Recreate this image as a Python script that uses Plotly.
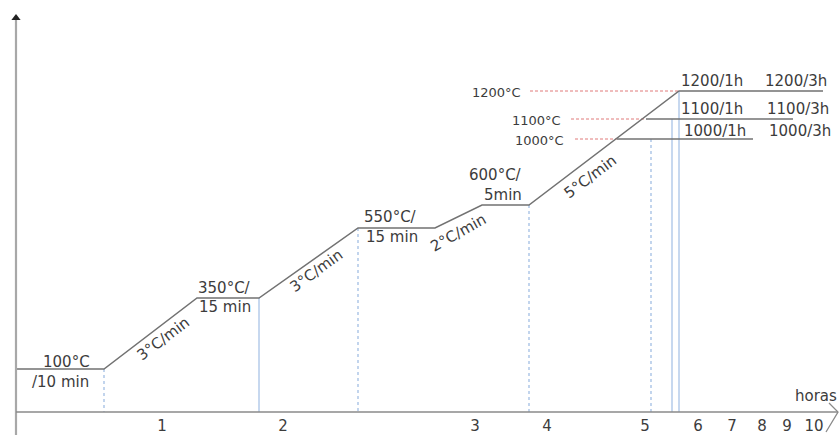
import plotly.graph_objects as go

# ---- schematic diagram data (diagram units: x = time position, y = height, downwards) ----
profile_x = [16, 104, 197, 259, 358, 435, 482, 529, 679, 823]
profile_y = [369, 369, 298, 298, 228, 228, 205, 205, 91, 91]

hold_levels = ["1000", "1100", "1200"]
hold_y = [139, 119, 91]
hold_start = [617, 646, 679]
hold_end = [753, 793, 823]
ref_start = [575, 571, 530]
ref_labels = ["1000°C", "1100°C", "1200°C"]
ref_label_x = [565, 562, 522]

drop_x = [104, 259, 358, 529, 651, 672, 679]
drop_top = [369, 298, 228, 205, 139, 119, 91]
drop_dotted = [True, False, True, True, True, False, False]

tick_labels = ["1", "2", "3", "4", "5", "6", "7", "8", "9", "10"]
tick_pos = [162, 283, 475, 547, 645, 698, 732, 762, 787, 814]

plateau_text = ["100°C", "/10 min", "350°C/", "15 min", "550°C/", "15 min", "600°C/", "5min"]
plateau_x = [91, 90, 197, 198, 363, 365, 523, 523]
plateau_y = [362, 382, 288, 307, 217, 237, 175, 195]
plateau_anchor = ["right", "right", "left", "left", "left", "left", "right", "right"]

ramp_labels = ["3°C/min", "3°C/min", "2°C/min", "5°C/min"]
ramp_x = [163, 316, 458, 590]
ramp_y = [339, 271, 233, 177]
ramp_angle = [-37, -36, -29, -37]

hold_text = ["1200/1h", "1200/3h", "1100/1h", "1100/3h", "1000/1h", "1000/3h"]
hold_text_x = [680, 764, 680, 766, 683, 768]
hold_text_y = [81, 81, 109, 109, 131, 131]

axis_y = 412
axis_x0, axis_x1 = 16, 838

FONT = "DejaVu Sans"
TXT = "#3c3c3c"
GREY = "#727272"
BLUE = "#a9c3e6"
RED = "#e07a7a"

fig = go.Figure()

# vertical drop lines
for x, top, dotted in zip(drop_x, drop_top, drop_dotted):
    fig.add_trace(go.Scatter(x=[x, x], y=[top, axis_y], mode="lines",
                             line=dict(color=BLUE, width=1.4 if dotted else 1.3,
                                       dash="dot" if dotted else "solid"),
                             hoverinfo="skip", showlegend=False))

# red reference dashed lines
for y, x0, x1 in zip(hold_y, ref_start, hold_start):
    fig.add_trace(go.Scatter(x=[x0, x1], y=[y, y], mode="lines",
                             line=dict(color=RED, width=1, dash="3px,2px"),
                             hoverinfo="skip", showlegend=False))

# main profile
fig.add_trace(go.Scatter(x=profile_x, y=profile_y, mode="lines",
                         line=dict(color=GREY, width=1.5),
                         hoverinfo="skip", showlegend=False))
# extra hold lines
for y, x0, x1 in zip(hold_y[:2], hold_start[:2], hold_end[:2]):
    fig.add_trace(go.Scatter(x=[x0, x1], y=[y, y], mode="lines",
                             line=dict(color=GREY, width=1.5),
                             hoverinfo="skip", showlegend=False))

# axes
fig.add_trace(go.Scatter(x=[axis_x0, axis_x0], y=[435, 18], mode="lines",
                         line=dict(color="#a8a8a8", width=2.2),
                         hoverinfo="skip", showlegend=False))
fig.add_trace(go.Scatter(x=[axis_x0], y=[18], mode="markers",
                         marker=dict(symbol="triangle-up", size=8, color="#222"),
                         hoverinfo="skip", showlegend=False))
fig.add_trace(go.Scatter(x=[axis_x0, axis_x1], y=[axis_y, axis_y], mode="lines",
                         line=dict(color="#8a8a8a", width=1.5),
                         hoverinfo="skip", showlegend=False))
fig.add_trace(go.Scatter(x=[829, 838, 826], y=[403, 412, 432], mode="lines",
                         line=dict(color="#8a8a8a", width=1.3),
                         hoverinfo="skip", showlegend=False))

# tick labels
fig.add_trace(go.Scatter(x=tick_pos, y=[427] * len(tick_pos), mode="text",
                         text=tick_labels, textposition="middle center",
                         textfont=dict(family=FONT, size=15, color=TXT),
                         hoverinfo="skip", showlegend=False))

ann = []
ann.append(dict(x=816, y=396, text="horas", xanchor="center", yanchor="middle"))
for t, x, y, a in zip(plateau_text, plateau_x, plateau_y, plateau_anchor):
    ann.append(dict(x=x, y=y, text=t, xanchor=a, yanchor="middle"))
for t, x, y, ang in zip(ramp_labels, ramp_x, ramp_y, ramp_angle):
    ann.append(dict(x=x, y=y, text=t, xanchor="center", yanchor="middle", textangle=ang))
for t, x, y in zip(ref_labels, ref_label_x, hold_y):
    ann.append(dict(x=x, y=y + 1, text=t, xanchor="right", yanchor="middle",
                    font=dict(family=FONT, size=13, color=TXT)))
for t, x, y in zip(hold_text, hold_text_x, hold_text_y):
    ann.append(dict(x=x, y=y, text=t, xanchor="left", yanchor="middle"))

for a in ann:
    a.setdefault("font", dict(family=FONT, size=15, color=TXT))
    a.update(xref="x", yref="y", showarrow=False, borderpad=0)
    fig.add_annotation(**a)

fig.update_layout(
    width=839, height=435,
    margin=dict(l=0, r=0, t=0, b=0),
    paper_bgcolor="white", plot_bgcolor="white",
    xaxis=dict(range=[0, 839], visible=False, fixedrange=True),
    yaxis=dict(range=[435, 0], visible=False, fixedrange=True),
)

fig.write_html("out.html", config={"displayModeBar": False},
               post_script="document.body.style.margin='0px';document.body.style.overflow='hidden';")
